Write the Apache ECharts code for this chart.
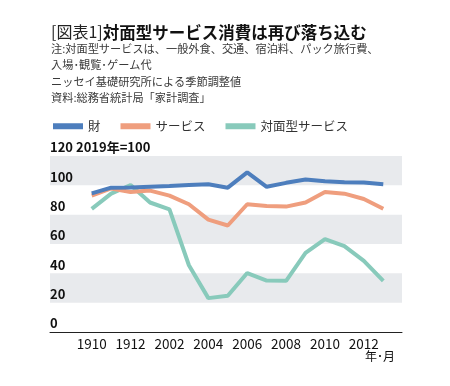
<!DOCTYPE html>
<html><head><meta charset="utf-8">
<script src="https://cdn.jsdelivr.net/npm/echarts@6/dist/echarts.min.js"></script>
<style>html,body{margin:0;padding:0;background:#fff}#c{width:450px;height:386px}</style>
</head><body><div id="c"></div>
<script>
const categories = ['1910','1911','1912','2001','2002','2003','2004','2005','2006','2007','2008','2009','2010','2011','2012','2101'];
const goods    = [94.5, 98.4, 98.5, 99, 99.5, 100.2, 100.7, 98.4, 108.8, 99, 101.7, 104, 102.8, 102.1, 101.9, 100.8];
const services = [93, 97.9, 95.5, 96.4, 93, 87.1, 76.6, 72.6, 87.1, 85.9, 85.5, 88.3, 95.5, 94.3, 90.7, 84];
const faceToFace = [84, 94.3, 100.2, 88.3, 83.6, 45.5, 23.1, 24.7, 40.2, 35.1, 34.9, 54, 63.4, 58.6, 48.5, 34.9];
const yTicks = [0, 20, 40, 60, 80, 100, 120];
const seriesNames = ['財', 'サービス', '対面型サービス'];
const colors = ['#4d7ebd', '#ef9e7e', '#88cabb'];
const notes = ['注:対面型サービスは、一般外食、交通、宿泊料、パック旅行費、', '入場･観覧･ゲーム代', 'ニッセイ基礎研究所による季節調整値', '資料:総務省統計局「家計調査」'];

const FONT = "'Noto Sans CJK JP', 'Noto Sans', sans-serif";
const chart = echarts.init(document.getElementById('c'), null, {renderer: 'canvas'});
const lineSeries = [goods, services, faceToFace].map((d, i) => ({
  name: seriesNames[i], type: 'line', data: d, xAxisIndex: 0, yAxisIndex: 0,
  symbol: 'none', lineStyle: {width: 4, color: colors[i]}, itemStyle: {color: colors[i]}, z: 5 + (2 - i)
}));
lineSeries[2].z = 4;
chart.setOption({
  animation: false,
  textStyle: {fontFamily: FONT},
  title: {
    left: 46, top: 19,
    text: '{a|[図表1]}{b|対面型サービス消費は再び落ち込む}',
    textStyle: {rich: {
      a: {fontSize: 16, fontWeight: 'normal', color: '#222', fontFamily: FONT},
      b: {fontSize: 16.5, fontWeight: 'bold', color: '#111', fontFamily: FONT}
    }},
    subtext: notes.join('\n'),
    subtextStyle: {fontSize: 11.2, lineHeight: 16.3, color: '#3a3a3a', fontFamily: FONT},
    itemGap: 0
  },
  legend: {
    left: 48, top: 115, itemWidth: 30, itemHeight: 6, itemGap: 20,
    icon: 'rect', data: seriesNames,
    textStyle: {fontSize: 12.5, color: '#333', fontFamily: FONT}
  },
  grid: [
    {left: 82, right: 57, top: 156, bottom: 54},
    {left: 50, right: 48, top: 156, bottom: 54}
  ],
  xAxis: [
    {type: 'category', gridIndex: 0, data: categories, boundaryGap: true,
     axisLine: {show: false}, axisTick: {show: false},
     axisLabel: {interval: 1, color: '#111', fontSize: 13.5, margin: 5, fontFamily: FONT}},
    {type: 'value', gridIndex: 1, min: 0, max: 1, show: true,
     axisLine: {show: true, onZero: false, lineStyle: {color: '#222', width: 1}},
     axisTick: {show: false}, axisLabel: {show: false}, splitLine: {show: false}}
  ],
  yAxis: [
    {type: 'value', gridIndex: 0, min: 0, max: 120, interval: 20,
     axisLine: {show: false}, axisTick: {show: false}, splitLine: {show: false},
     axisLabel: {align: 'left', verticalAlign: 'bottom', margin: 32, padding: [0, 0, 2, 0],
       fontSize: 13, fontWeight: 'bold', color: '#111', fontFamily: FONT,
       formatter: v => v === yTicks[yTicks.length - 1] ? v + ' 2019年=100' : String(v)}},
    {type: 'value', gridIndex: 1, min: 0, max: 120, interval: 20,
     axisLine: {show: false}, axisTick: {show: false}, axisLabel: {show: false},
     splitLine: {show: false},
     splitArea: {show: true, areaStyle: {color: ['rgba(255,255,255,0)', '#e8eaed']}}}
  ],
  graphic: [
    {type: 'text', right: 55, top: 350, style: {text: '年･月', fontSize: 12, fill: '#111', fontFamily: FONT}}
  ],
  series: lineSeries
});
</script></body></html>
